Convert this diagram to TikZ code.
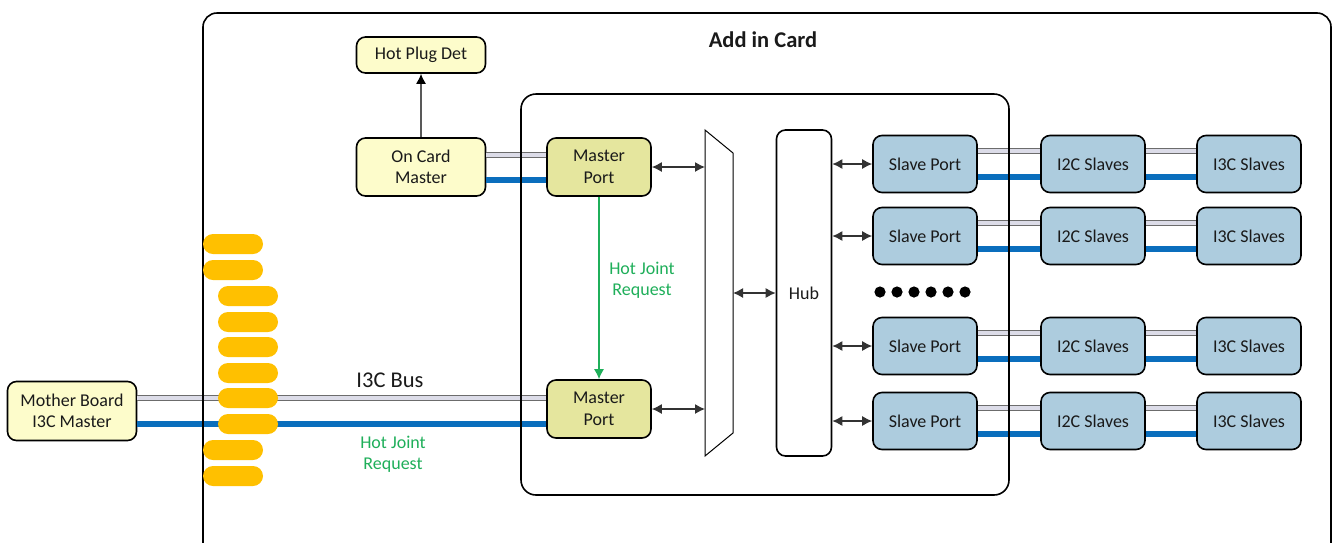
\documentclass[tikz,border=0pt]{standalone}
\usepackage{fontspec}
\setmainfont{Carlito}
\usetikzlibrary{arrows.meta}
\definecolor{lyel}{HTML}{FDFCCB}
\definecolor{olive}{HTML}{E5E69E}
\definecolor{sblue}{HTML}{ADCCDE}
\definecolor{padc}{HTML}{FFC000}
\definecolor{busgray}{HTML}{DCDCE8}
\definecolor{busblue}{HTML}{0A6EBD}
\definecolor{hjgreen}{HTML}{1FAF5A}
\definecolor{txt}{HTML}{1A1A1A}
\tikzset{
  box/.style={draw=black, line width=1.6pt, rounded corners=9pt, align=center, inner sep=0pt,
    font=\fontsize{18}{21.5}\selectfont, text=txt},
  ybox/.style={box, fill=lyel, minimum width=129pt, minimum height=58pt},
  mport/.style={box, fill=olive, minimum width=104pt, minimum height=58pt},
  bbox/.style={box, fill=sblue, minimum width=104pt, minimum height=57pt},
  pad/.style={fill=padc, rounded corners=10pt, minimum width=60pt, minimum height=20pt, inner sep=0pt},
  graybus/.style={draw=gray!85!black, line width=1.1pt, double=busgray, double distance=3.6pt},
  bluebus/.style={draw=busblue, line width=6pt},
  biarrow/.style={draw=black!80, line width=1.3pt, {Latex[length=10pt,width=10pt]}-{Latex[length=10pt,width=10pt]}},
  uparrow/.style={draw=black!65, line width=1.3pt, -{Latex[length=10pt,width=10pt,black]}},
  hjarrow/.style={draw=hjgreen, line width=1.3pt, -{Latex[length=10pt,width=10pt]}},
  lbl/.style={font=\fontsize{18}{21.5}\selectfont, align=center},
}
\begin{document}
\begin{tikzpicture}[x=1pt,y=-1pt]
\useasboundingbox (0,0) rectangle (1333,542);
\clip (0,0) rectangle (1333,542);
\fill[white] (0,0) rectangle (1333,542);

% nodes
\node[ybox, minimum height=36pt] (hpd) at (421,55) {Hot Plug Det};
\node[ybox] (ocm) at (421,167) {On Card\\Master};
\node[mport] (mpT) at (599,167) {Master\\Port};
\node[mport] (mpB) at (599,409) {Master\\Port};
\node[ybox, minimum height=59pt] (mb) at (72,411) {Mother Board\\I3C Master};
\node[box, minimum width=55pt, minimum height=326pt] (hub) at (804,293) {Hub};

\foreach \i/\y in {1/164,2/236,3/346,4/421}{
  \node[bbox] (sp\i) at (925,\y) {Slave Port};
  \node[bbox] (ic\i) at (1093,\y) {I2C Slaves};
  \node[bbox] (it\i) at (1249,\y) {I3C Slaves};
}

% buses
\draw[graybus] (ocm.east |- 0,155) -- (mpT.west |- 0,155);
\draw[bluebus] (ocm.east |- 0,180) -- (mpT.west |- 0,180);
\draw[graybus] (mb.east |- 0,398) -- (mpB.west |- 0,398);
\draw[bluebus] (mb.east |- 0,424) -- (mpB.west |- 0,424);
\foreach \i/\y in {1/164,2/236,3/346,4/421}{
  \draw[graybus] (sp\i.east |- 0,\y-13) -- (ic\i.west |- 0,\y-13);
  \draw[bluebus] (sp\i.east |- 0,\y+13) -- (ic\i.west |- 0,\y+13);
  \draw[graybus] (ic\i.east |- 0,\y-13) -- (it\i.west |- 0,\y-13);
  \draw[bluebus] (ic\i.east |- 0,\y+13) -- (it\i.west |- 0,\y+13);
}

% outer and inner boxes
\draw[line width=1.6pt, rounded corners=14pt] (203,13) rectangle (1331,620);
\node[font=\bfseries\fontsize{22.5}{26}\selectfont, text=txt] (title) at (763,40) {Add in Card};
\draw[line width=1.6pt, rounded corners=15pt] (521,94) rectangle (1009,495);

% mux
\coordinate (muxL) at (705,0);
\coordinate (muxR) at (733,0);
\draw[line width=1pt, fill=white] (705,130) -- (733,153) -- (733,433) -- (705,456) -- cycle;

% pads
\foreach \n/\x/\y in {1/233/244,2/233/270,3/248/296,4/248/322,5/248/347,6/248/373,7/248/398,8/248/424,9/233/450,10/233/476}{
  \node[pad] (p\n) at (\x,\y) {};
}

% arrows
\draw[uparrow] (ocm.north) -- (hpd.south);
\draw[biarrow] (mpT.east) -- (muxL |- mpT.east);
\draw[biarrow] (mpB.east) -- (muxL |- mpB.east);
\draw[biarrow] (muxR |- hub.west) -- (hub.west);
\foreach \i in {1,2,3,4}{
  \draw[biarrow] (hub.east |- sp\i.west) -- (sp\i.west);
}
\draw[hjarrow] (mpT.south) -- (mpB.north);

% dots
\foreach \x in {880,897,914,931,948,965}{
  \fill[black] (\x,292) circle (5.6pt);
}

% labels
\node[lbl, text=hjgreen] (hj1) at (642,280) {Hot Joint\\Request};
\node[lbl, text=hjgreen] (hj2) at (393,454) {Hot Joint\\Request};
\node[font=\fontsize{22.5}{26}\selectfont, text=txt] (bus) at (390,380) {I3C Bus};
\end{tikzpicture}
\end{document}
